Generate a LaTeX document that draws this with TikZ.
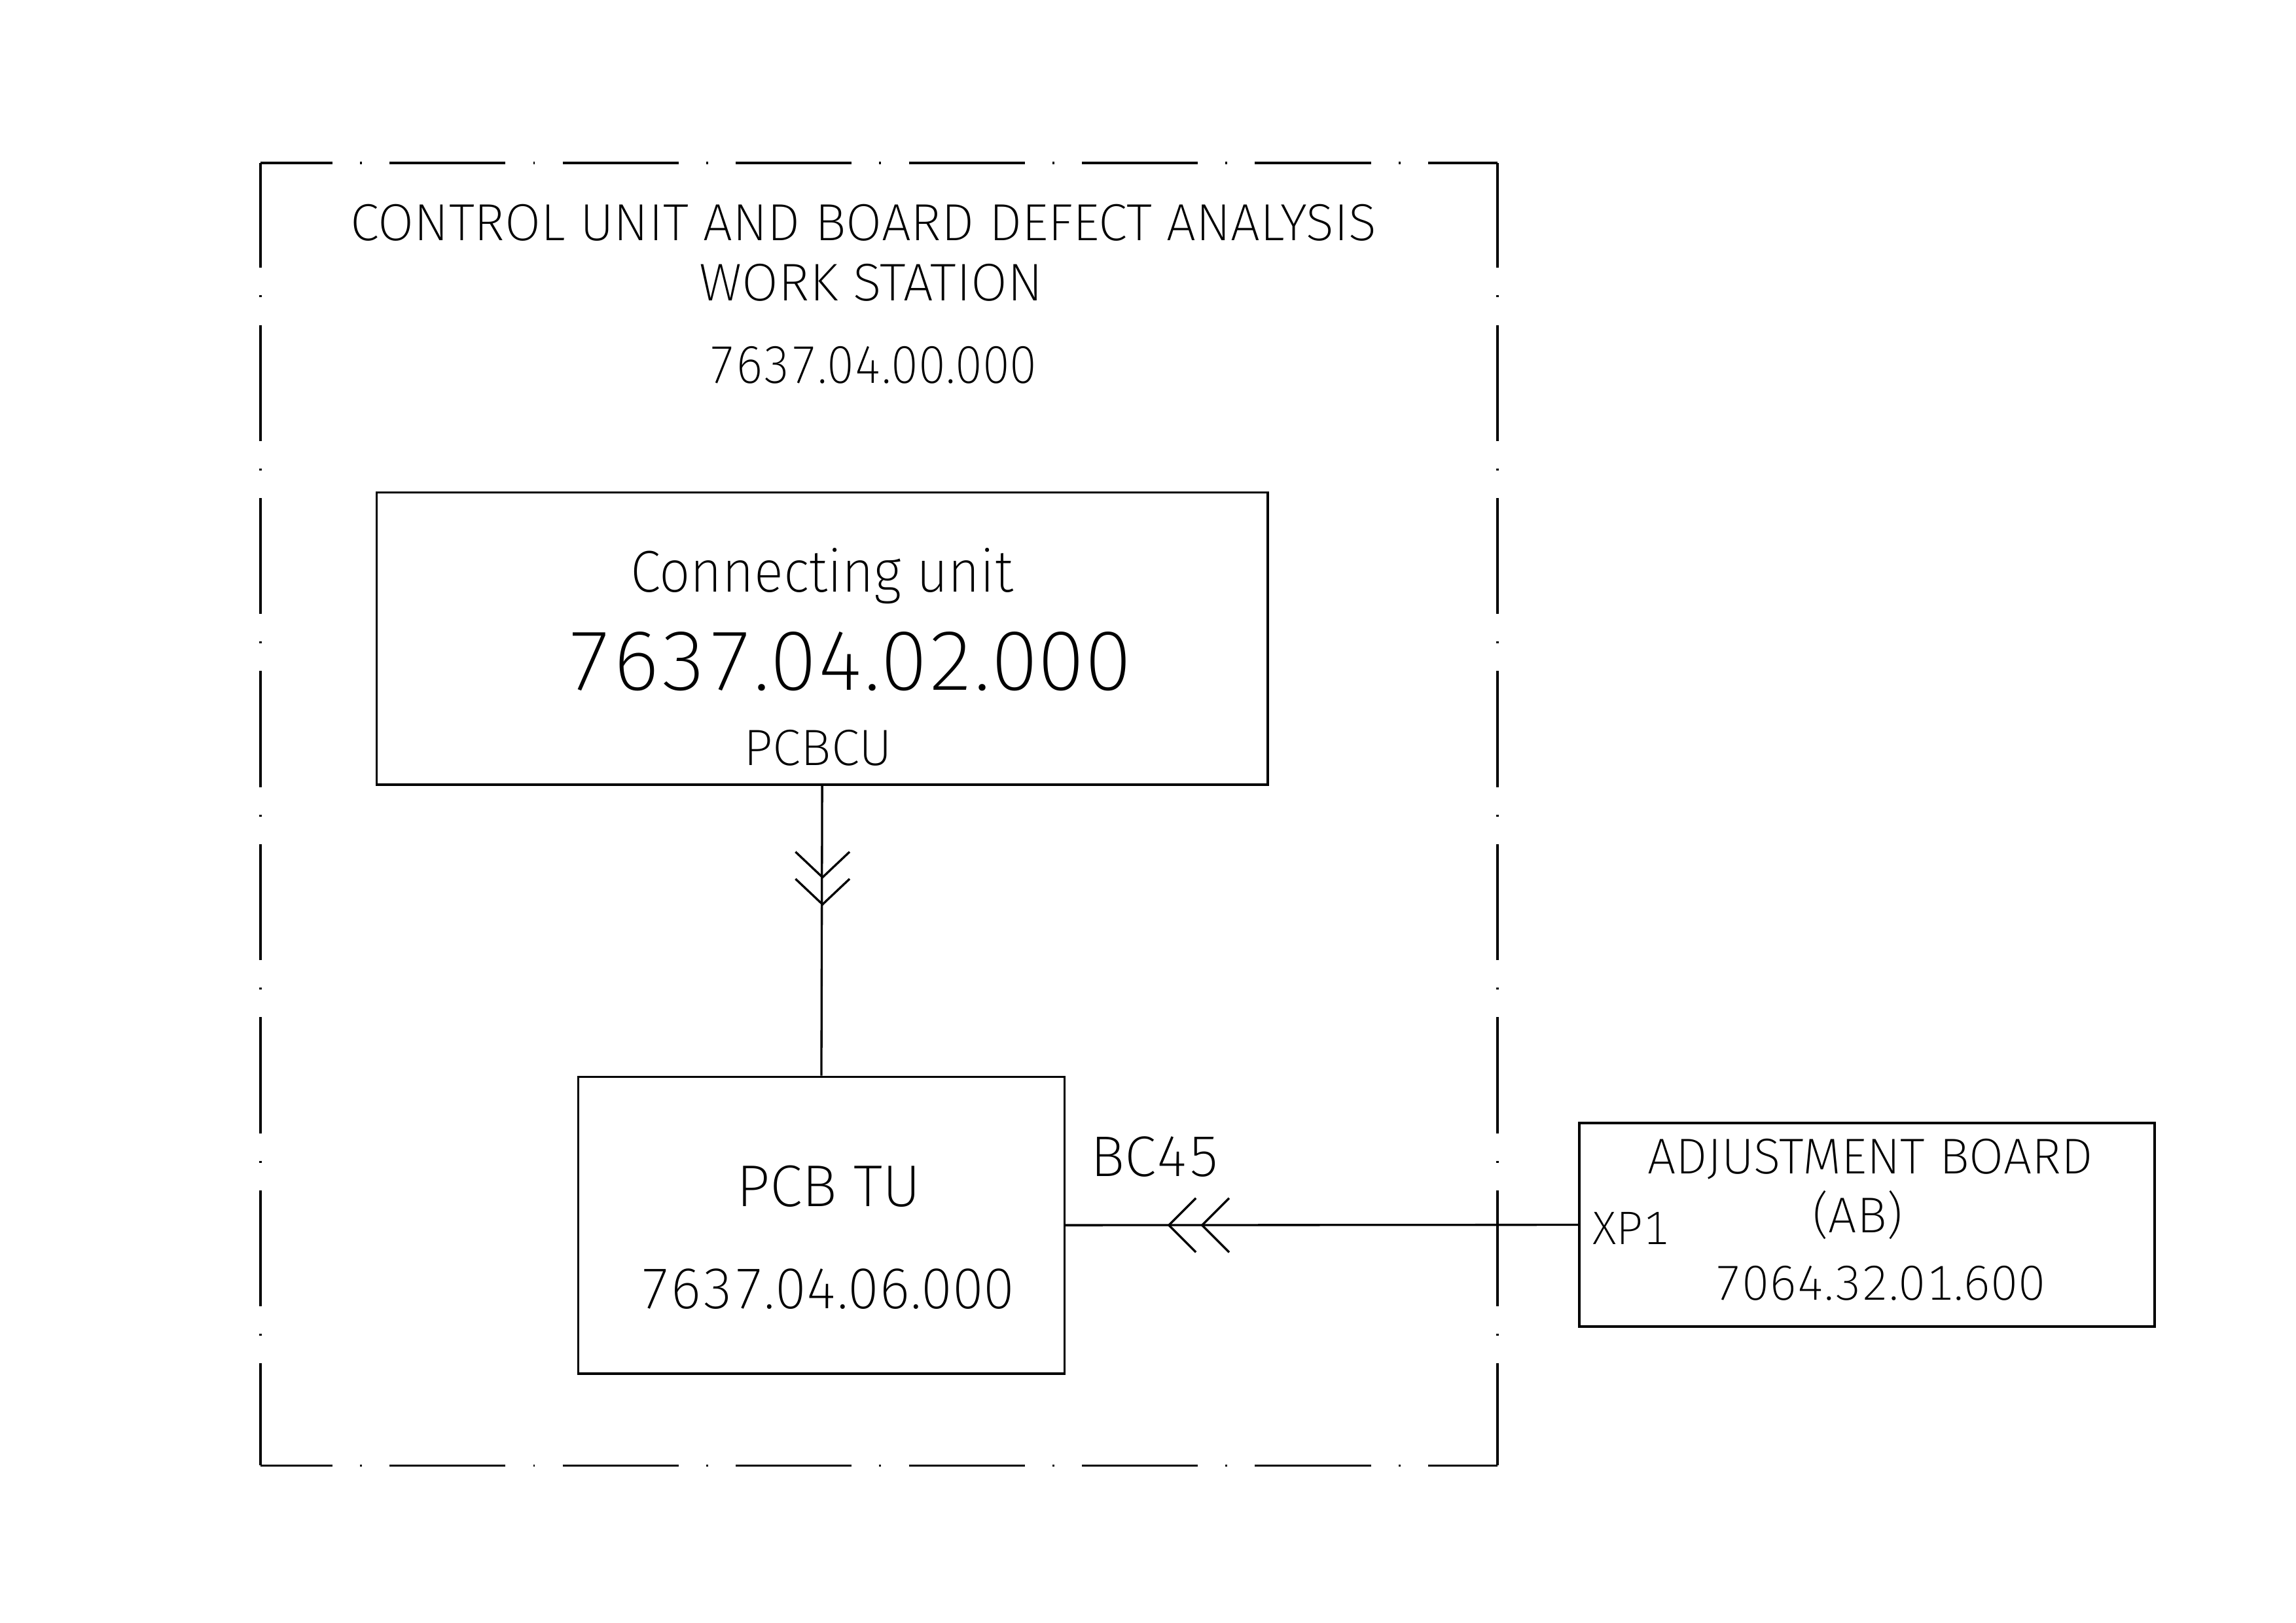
\documentclass[tikz,border=0pt]{standalone}
\usepackage{fontspec}
\setmainfont{Fira Sans ExtraLight}[Numbers=Monospaced]
\newcommand{\cadsize}[1]{\fontsize{#1}{#1}\selectfont}

\begin{document}
\begin{tikzpicture}[x=1mm,y=-1mm,
    blk/.style={draw,line width=0.8pt,inner sep=0pt},
    lbl/.style={anchor=base,inner sep=0pt},
    frm/.style={line width=0.9pt,dash pattern=on 15mm off 3.57mm on 0.25mm off 3.57mm}]
        \useasboundingbox (0,0) rectangle (297,209.9);

        % work station frame
        \draw[frm,dash phase=5.7mm] (33.7,21.1) -- (193.7,21.1);
        \draw[frm,dash phase=5.7mm] (33.7,189.6) -- (193.7,189.6);
        \draw[frm,dash phase=1.45mm] (33.7,21.1) -- (33.7,189.6);
        \draw[frm,dash phase=1.45mm] (193.7,21.1) -- (193.7,189.6);

        \node[lbl,font=\cadsize{19.2}] (title) at (111.7,31.1) {CONTROL UNIT AND BOARD DEFECT ANALYSIS};
        \node[lbl,font=\cadsize{19.5}] (ws) at (112.7,38.9) {WORK STATION};
        \node[lbl,font=\cadsize{19.5}\addfontfeatures{FakeStretch=0.92}] (wsnum) at (112.9,49.6) {7637.04.00.000};

        % blocks
        \node[blk,minimum width=115.3mm,minimum height=37.8mm] (cu) at (106.35,82.6) {};
        \node[blk,minimum width=62.9mm,minimum height=38.4mm] (tu) at (106.25,158.5) {};
        \node[blk,line width=0.9pt,minimum width=74.4mm,minimum height=26.3mm] (ab) at (241.5,158.45) {};

        \node[lbl,font=\cadsize{21.7}\addfontfeatures{FakeStretch=0.93}] (cuname) at (106.3,76.6) {Connecting unit};
        \node[lbl,font=\cadsize{30.9}] (cunum) at (109.8,89.25) {7637.04.02.000};
        \node[lbl,font=\cadsize{18.8}] (cuid) at (105.8,99.0) {PCBCU};

        \node[lbl,font=\cadsize{21.7}] (tuname) at (107.2,156.1) {PCB TU};
        \node[lbl,font=\cadsize{21.1}\addfontfeatures{FakeStretch=0.97}] (tunum) at (107.0,169.25) {7637.04.06.000};

        \node[lbl,font=\cadsize{18.5}] (abname) at (241.9,151.85) {ADJUSTMENT BOARD};
        \node[lbl,font=\cadsize{18.5}] (abshort) at (240.3,159.5) {(AB)};
        \node[lbl,font=\cadsize{18.1}] (abnum) at (243.2,168.2) {7064.32.01.600};
        \node[lbl,font=\cadsize{17.3}] (xp) at (211.0,161.0) {XP1};
        \node[lbl,font=\cadsize{21.1}] (bc) at (149.5,152.15) {BC45};

        % connectors with plug marks
        \draw[line width=0.8pt] (cu.south) -- (tu.north);
        \draw[line width=0.8pt] (102.9,110.2) -- (106.4,113.5) -- (109.9,110.2);
        \draw[line width=0.8pt] (102.9,113.7) -- (106.4,117.0) -- (109.9,113.7);

        \draw[line width=0.8pt] (tu.east) -- (ab.west);
        \draw[line width=0.8pt] (154.7,155.0) -- (151.2,158.5) -- (154.7,162.0);
        \draw[line width=0.8pt] (159.0,155.0) -- (155.5,158.5) -- (159.0,162.0);
    \end{tikzpicture}
\end{document}
